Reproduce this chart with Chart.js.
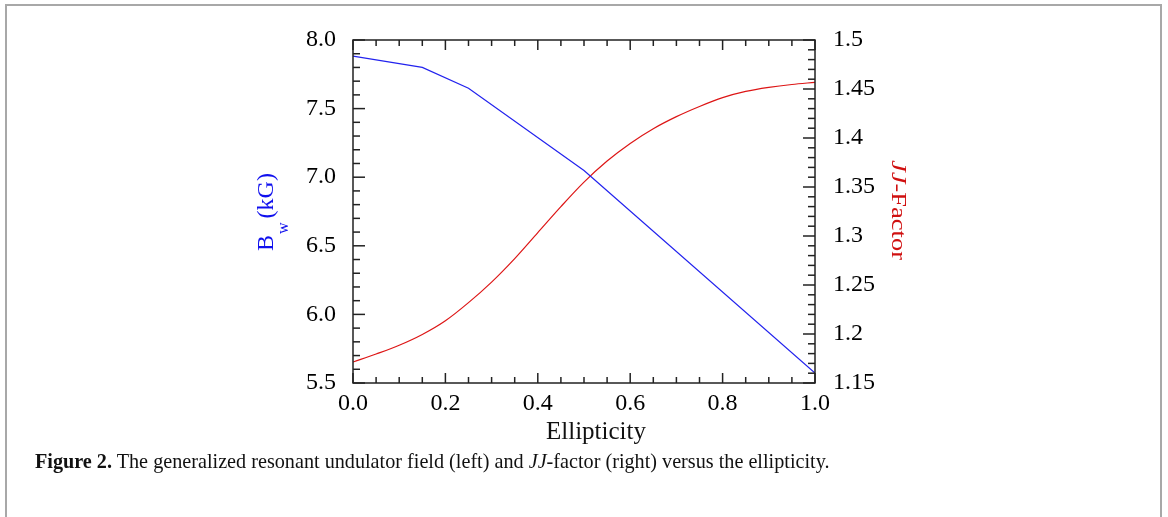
<!DOCTYPE html>
<html><head><meta charset="utf-8">
<script src="https://cdn.jsdelivr.net/npm/chart.js@4/dist/chart.umd.min.js"></script>
<style>
html,body{margin:0;padding:0;background:#fff;}
#wrap{position:relative;width:1168px;height:517px;overflow:hidden;background:#fff;}
#frame{position:absolute;left:5px;top:4px;width:1153px;height:600px;border:2px solid #a8a8a8;}
#c{position:absolute;left:0;top:0;}
#cap{position:absolute;left:35px;top:450px;font-family:"Liberation Serif","DejaVu Serif",serif;font-size:20.2px;color:#111;white-space:nowrap;}
</style></head>
<body><div id="wrap"><div id="frame"></div><canvas id="c" width="1168" height="517"></canvas>
<div id="cap"><b>Figure 2.</b> The generalized resonant undulator field (left) and <i>JJ</i>-factor (right) versus the ellipticity.</div></div>
<script>
// ---- data ----
const ellipticityBw = [0, 0.15, 0.25, 0.5, 1.0];
const fieldBw = [7.883, 7.80, 7.648, 7.049, 5.573];
const ellipticityJJ = [0, 0.05, 0.1, 0.15, 0.2, 0.25, 0.3, 0.35, 0.4, 0.45, 0.5, 0.55, 0.6, 0.65, 0.7, 0.75, 0.8, 0.85, 0.9, 0.95, 1.0];
const jjFactor = [1.1714, 1.1796, 1.1885, 1.1995, 1.2135, 1.2320, 1.2530, 1.2770, 1.3035, 1.3300, 1.3550, 1.3765, 1.3945, 1.4095, 1.4218, 1.4322, 1.4412, 1.4475, 1.4516, 1.4546, 1.4568];
const xTicks = [0, 0.2, 0.4, 0.6, 0.8, 1.0];
const bwTicks = [5.5, 6.0, 6.5, 7.0, 7.5, 8.0];
const jjTicks = [1.15, 1.2, 1.25, 1.3, 1.35, 1.4, 1.45, 1.5];
const xTitle = 'Ellipticity';

const SERIF = '"Liberation Serif","DejaVu Serif",serif';
const tickFont = {family: SERIF, size: 24};

function setTicks(arr){ return s => { s.ticks = arr.map(v => ({value: v})); }; }

const frameTicks = {
  id: 'frameTicks',
  afterDatasetsDraw(chart){
    const {ctx, chartArea: a, scales} = chart;
    ctx.save();
    ctx.strokeStyle = '#222';
    ctx.lineWidth = 1.5;
    const line = (x1,y1,x2,y2) => { ctx.beginPath(); ctx.moveTo(x1,y1); ctx.lineTo(x2,y2); ctx.stroke(); };
    for (let i = 0; i <= 20; i++) {
      const px = scales.x.getPixelForValue(i * 0.05);
      const L = (i % 4 === 0) ? 10 : 6;
      line(px, a.bottom, px, a.bottom - L);
      line(px, a.top, px, a.top + L);
    }
    for (let i = 0; i <= 25; i++) {
      const py = scales.y.getPixelForValue(5.5 + i * 0.1);
      const L = (i % 5 === 0) ? 12 : 7;
      line(a.left, py, a.left + L, py);
    }
    for (let i = 0; i <= 35; i++) {
      const py = scales.y2.getPixelForValue(1.15 + i * 0.01);
      const L = (i % 5 === 0) ? 12 : 7;
      line(a.right, py, a.right - L, py);
    }
    ctx.strokeRect(a.left, a.top, a.right - a.left, a.bottom - a.top);
    ctx.restore();
  },
  afterDraw(chart){
    const {ctx} = chart;
    ctx.save();
    ctx.textBaseline = 'alphabetic';
    // x title
    ctx.fillStyle = '#111';
    ctx.font = '25px ' + SERIF;
    ctx.textAlign = 'center';
    ctx.fillText(xTitle, 596, 439);
    // left title: B_w (kG)
    ctx.save();
    ctx.translate(273, 211);
    ctx.rotate(-Math.PI / 2);
    ctx.fillStyle = '#1010ee';
    ctx.textAlign = 'left';
    const big = '24px ' + SERIF, small = '16px ' + SERIF;
    ctx.font = big; const wB = ctx.measureText('B').width;
    ctx.font = small; const wW = ctx.measureText('w').width;
    ctx.font = big; const wR = ctx.measureText(' (kG)').width;
    const tot = wB + 1 + wW + wR;
    const x0 = -tot / 2;
    ctx.font = big; ctx.fillText('B', x0, 0);
    ctx.font = small; ctx.fillText('w', x0 + wB + 1, 15);
    ctx.font = big; ctx.fillText(' (kG)', x0 + wB + wW - 1, 0);
    ctx.restore();
    // right title: JJ-Factor
    ctx.save();
    ctx.translate(892, 210);
    ctx.rotate(Math.PI / 2);
    ctx.fillStyle = '#d01010';
    ctx.textAlign = 'left';
    const it = 'italic 21px ' + SERIF, rg = '21px ' + SERIF;
    ctx.font = it; const wJ = ctx.measureText('JJ').width;
    ctx.font = rg; const wF = ctx.measureText('-Factor').width;
    const t2 = wJ + wF;
    ctx.scale(100 / t2, 1);
    ctx.font = it; ctx.fillText('JJ', -t2 / 2, 0);
    ctx.font = rg; ctx.fillText('-Factor', -t2 / 2 + wJ, 0);
    ctx.restore();
    ctx.restore();
  }
};

new Chart(document.getElementById('c'), {
  type: 'line',
  data: {
    datasets: [
      {
        label: 'Bw',
        data: ellipticityBw.map((x, i) => ({x, y: fieldBw[i]})),
        yAxisID: 'y',
        borderColor: '#2222ee',
        borderWidth: 1.2,
        pointRadius: 0,
        tension: 0,
        fill: false
      },
      {
        label: 'JJ',
        data: ellipticityJJ.map((x, i) => ({x, y: jjFactor[i]})),
        yAxisID: 'y2',
        borderColor: '#dd1515',
        borderWidth: 1.2,
        pointRadius: 0,
        cubicInterpolationMode: 'monotone',
        fill: false
      }
    ]
  },
  options: {
    responsive: false,
    animation: false,
    devicePixelRatio: 1,
    layout: {padding: {top: 40, left: 0, right: 0, bottom: 0}},
    plugins: {legend: {display: false}, tooltip: {enabled: false}},
    scales: {
      x: {
        type: 'linear', position: 'bottom', min: 0, max: 1,
        afterBuildTicks: setTicks(xTicks),
        afterFit: s => { s.height = 134; },
        grid: {display: false, drawTicks: false},
        border: {display: false},
        ticks: {font: tickFont, color: '#000', padding: 6, maxRotation: 0, autoSkip: false,
                callback: v => Number(v).toFixed(1)}
      },
      y: {
        type: 'linear', position: 'left', min: 5.5, max: 8,
        afterBuildTicks: setTicks(bwTicks),
        afterFit: s => { s.width = 353; },
        grid: {display: false, drawTicks: false},
        border: {display: false},
        ticks: {font: tickFont, color: '#000', padding: 17, autoSkip: false,
                callback: v => Number(v).toFixed(1)}
      },
      y2: {
        type: 'linear', position: 'right', min: 1.15, max: 1.5,
        afterBuildTicks: setTicks(jjTicks),
        afterFit: s => { s.width = 353; },
        grid: {display: false, drawTicks: false},
        border: {display: false},
        ticks: {font: tickFont, color: '#000', padding: 18, autoSkip: false,
                callback: v => String(parseFloat(Number(v).toFixed(2)))}
      }
    }
  },
  plugins: [frameTicks]
});
</script>
</body></html>
